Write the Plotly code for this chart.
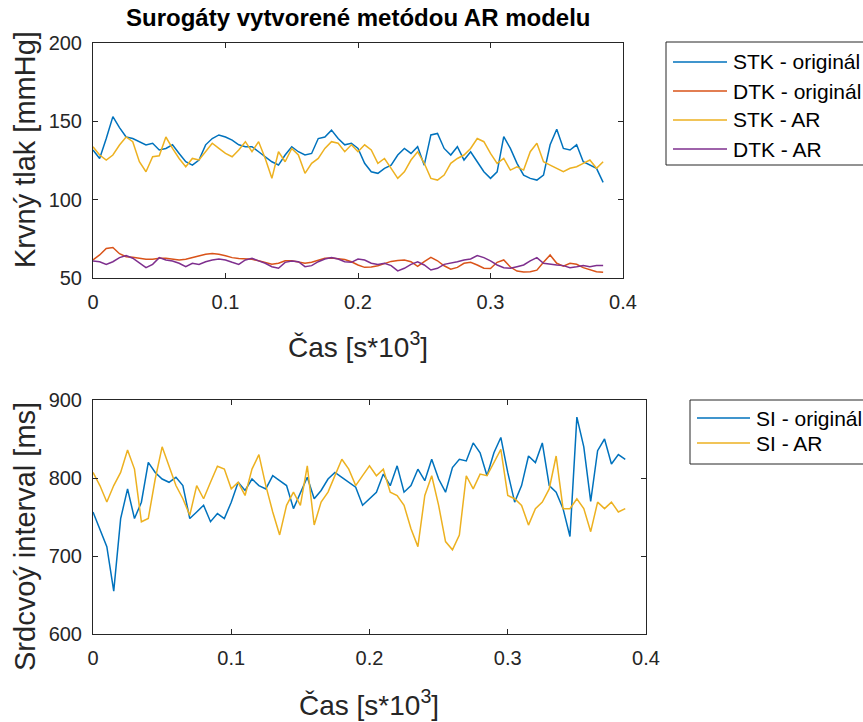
import plotly.graph_objects as go

W, H = 863, 722

# time axis [s*10^3], 78 samples
cas = [round(i * 0.005, 3) for i in range(78)]

stk_orig = [131.7, 126.3, 139, 153, 146, 140, 139, 137, 134.9, 136,
            131.7, 132.7, 135, 129.5, 124.2, 122, 125.3, 135, 139, 141.3,
            140, 138, 135, 133.8, 133.8, 130.6, 127.4, 124.2, 122.1, 128.5,
            133.8, 130.6, 128.5, 129.5, 139, 140, 144.4, 139, 135, 136,
            132.7, 123.2, 117.8, 116.8, 120, 122, 128.5, 132.7, 129.5, 133.8,
            122, 141.3, 142.3, 132.7, 128.5, 133.8, 125.3, 130.6, 124.2, 117.8,
            113.6, 117.8, 140.2, 132.7, 123.2, 115.7, 113.6, 112.5, 115.7, 135,
            145, 132.7, 131.7, 135, 124.2, 122, 120, 111]

dtk_orig = [61.5, 64.7, 68.9, 69.5, 65.5, 63.6, 63.2, 62.6, 62, 62,
            62.6, 62.6, 62, 61.5, 62, 63, 64.2, 65.2, 65.7, 65.2,
            64.2, 63, 62.4, 62.4, 62, 61, 60, 58.8, 59.4, 61,
            61, 60, 59.4, 60, 61.3, 62.6, 62.8, 62.4, 61.8, 60.4,
            58.3, 56.8, 57, 57.8, 59.4, 60.6, 61.2, 61.5, 60.4, 57.5,
            60.5, 63.2, 61, 57.8, 55.6, 56.8, 59.4, 60, 58.3, 56.2,
            56, 60, 61.5, 57, 54.4, 53.8, 54, 55, 60, 64.7,
            59.4, 57.6, 59.4, 58.8, 56.6, 55.4, 54, 53.6]

stk_ar = [133.8, 128.5, 125.3, 128.5, 134.9, 140, 137, 124.2, 117.8, 127.4,
          128, 140, 132.7, 126.3, 121, 126.3, 125.3, 130.6, 136, 132.7,
          129.5, 127.4, 131.7, 137, 130.6, 137, 126.3, 113.6, 130.6, 124.2,
          132.7, 128.5, 116.8, 123.2, 126.3, 132.7, 137, 136, 130.6, 135,
          130.6, 135, 131.7, 123.2, 126.3, 120, 113.6, 117.8, 125.3, 130.6,
          123.2, 113.6, 112.5, 115.7, 123.2, 126.3, 128.5, 132.7, 139, 137,
          129.5, 123.2, 126.3, 118.9, 121, 118.9, 130.6, 136, 124.2, 122,
          120, 117.8, 120, 121, 123.2, 125.3, 120, 124.2]

dtk_ar = [60.9, 60.4, 58.7, 60.4, 63, 64.3, 62.6, 59.4, 56.6, 58.7,
          63, 61.5, 60.9, 59.4, 57.2, 59.4, 58.7, 60.4, 61.5, 62.1,
          61.5, 60, 58.7, 61.5, 62.6, 60.9, 59.4, 57.2, 56.2, 60,
          60.9, 60.4, 57.2, 57.9, 60.4, 62.1, 63, 62.1, 60.4, 60,
          62.1, 61.5, 59.4, 58.7, 59.4, 57.9, 54.5, 56.2, 58.7, 60.4,
          58.3, 55.1, 56.2, 58.7, 59.4, 60.4, 61.5, 62.1, 64.3, 63,
          60.9, 58.3, 56.6, 56.2, 57.2, 58.3, 60.9, 63, 59.4, 58.7,
          58.3, 57.9, 56.6, 57.2, 57.9, 57.2, 57.9, 57.9]

si_orig = [756.5, 735.5, 712, 655, 748, 786, 748, 769, 820, 807,
           798.7, 794.5, 800.9, 790.3, 748, 756.5, 765, 744, 754.4, 748,
           769, 794.5, 784, 798.7, 790.3, 786, 803, 796.6, 790.3, 760.8,
           781.9, 800.9, 773.4, 784, 798.7, 807.2, 800.9, 794.5, 788.2, 765,
           773.4, 781.8, 805, 790.2, 815.6, 781.8, 790.2, 811.3, 796.6, 824,
           798.7, 781.8, 813.4, 824, 821.9, 845, 832.4, 802.9, 832.4, 852,
           807.1, 769.1, 790.2, 828.2, 819.8, 845, 790.2, 781.8, 760.7, 725,
           878, 840, 770, 835, 850, 818, 830, 824]

si_ar = [807.2, 790.3, 769.2, 790.3, 807.2, 836, 811.4, 743.9, 748.1, 798.7,
         840, 815, 790.3, 773.4, 752.3, 790.3, 773.4, 794.5, 815, 811.4,
         786.1, 794.5, 777.6, 811.4, 830, 790.3, 756.5, 727, 765, 781.9,
         765, 815.6, 739.7, 769.2, 781.9, 803, 824.1, 811.4, 790.3, 803,
         815.6, 802.9, 811.3, 781.8, 777.6, 764.9, 735, 712, 777.6, 802.9,
         764.9, 718.5, 708, 726.9, 802.9, 786, 805, 802.9, 819.8, 836.7,
         777.6, 773.4, 764.9, 739.6, 760.7, 769.1, 786, 828.2, 760.7, 760.7,
         773.4, 760.7, 731.2, 769.1, 760.7, 769.1, 756.5, 760.7]

names_top = ["STK - originál", "DTK - originál", "STK - AR", "DTK - AR"]
names_bot = ["SI - originál", "SI - AR"]
colors_top = ["#0072BD", "#D95319", "#EDB120", "#7E2F8E"]
colors_bot = ["#0072BD", "#EDB120"]

x_ticks = [0, 0.1, 0.2, 0.3, 0.4]
x_ticktext = ["0", "0.1", "0.2", "0.3", "0.4"]
y1_ticks = [50, 100, 150, 200]
y2_ticks = [600, 700, 800, 900]

title_text = "Surogáty vytvorené metódou AR modelu"
xlabel = "Čas [s*10<sup>3</sup>]"
ylabel_top = "Krvný tlak [mmHg]"
ylabel_bot = "Srdcvoý interval [ms]"

FONT = "Liberation Sans, Arial, Helvetica, sans-serif"
AX = "#262626"


def px(x):
    return x / W


def py(y):
    return 1 - y / H


fig = go.Figure()
for name, ys, c in zip(names_top, [stk_orig, dtk_orig, stk_ar, dtk_ar], colors_top):
    fig.add_trace(go.Scatter(x=cas, y=ys, mode="lines", name=name,
                             line=dict(color=c, width=1.5),
                             xaxis="x", yaxis="y", showlegend=False))
for name, ys, c in zip(names_bot, [si_orig, si_ar], colors_bot):
    fig.add_trace(go.Scatter(x=cas, y=ys, mode="lines", name=name,
                             line=dict(color=c, width=1.5),
                             xaxis="x2", yaxis="y2", showlegend=False))

common = dict(showline=True, mirror="ticks", linecolor=AX, linewidth=1,
              ticks="inside", ticklen=5, tickcolor=AX, tickwidth=1,
              showgrid=False, zeroline=False,
              tickfont=dict(family=FONT, size=20, color=AX))

fig.update_layout(
    width=W, height=H,
    margin=dict(l=0, r=0, t=0, b=0, autoexpand=False),
    paper_bgcolor="white", plot_bgcolor="white",
    font=dict(family=FONT, color=AX),
    xaxis=dict(domain=[px(93), px(623)], anchor="y", range=[0, 0.4],
               tickvals=x_ticks, ticktext=x_ticktext, ticklabelstandoff=6, **common),
    yaxis=dict(domain=[py(278), py(43)], anchor="x", range=[50, 200],
               tickvals=y1_ticks, ticklabelstandoff=6, **common),
    xaxis2=dict(domain=[px(93), px(646)], anchor="y2", range=[0, 0.4],
                tickvals=x_ticks, ticktext=x_ticktext, ticklabelstandoff=6, **common),
    yaxis2=dict(domain=[py(634), py(400)], anchor="x2", range=[600, 900],
                tickvals=y2_ticks, ticklabelstandoff=6, **common),
)

ann = []
ann.append(dict(text="<b>" + title_text + "</b>", x=px(358), y=py(18), xref="paper", yref="paper",
                showarrow=False, xanchor="center", yanchor="middle",
                font=dict(family=FONT, size=24, color="black")))
for xx, yy in ((358, 345), (369, 703)):
    ann.append(dict(text=xlabel, x=px(xx), y=py(yy), xref="paper", yref="paper",
                    showarrow=False, xanchor="center", yanchor="middle",
                    font=dict(family=FONT, size=28, color=AX)))
ann.append(dict(text=ylabel_top, x=px(25), y=py(150), xref="paper", yref="paper", textangle=-90,
                showarrow=False, xanchor="center", yanchor="middle",
                font=dict(family=FONT, size=29, color=AX)))
ann.append(dict(text=ylabel_bot, x=px(25), y=py(537), xref="paper", yref="paper", textangle=-90,
                showarrow=False, xanchor="center", yanchor="middle",
                font=dict(family=FONT, size=29, color=AX)))

shapes = []
# legend 1
shapes.append(dict(type="rect", xref="paper", yref="paper", x0=px(666), x1=px(W + 10),
                   y0=py(165), y1=py(42), line=dict(color=AX, width=1), fillcolor="white", layer="above"))
for i, (name, c) in enumerate(zip(names_top, colors_top)):
    yc = 62 + i * 29
    shapes.append(dict(type="line", xref="paper", yref="paper", x0=px(673), x1=px(727),
                       y0=py(yc), y1=py(yc), line=dict(color=c, width=1.5), layer="above"))
    ann.append(dict(text=name, x=px(731), y=py(yc), xref="paper", yref="paper", showarrow=False,
                    xanchor="left", yanchor="middle", font=dict(family=FONT, size=21, color="black")))
# legend 2
shapes.append(dict(type="rect", xref="paper", yref="paper", x0=px(690), x1=px(W + 10),
                   y0=py(464), y1=py(400), line=dict(color=AX, width=1), fillcolor="white", layer="above"))
for i, (name, c) in enumerate(zip(names_bot, colors_bot)):
    yc = 418 + i * 25
    shapes.append(dict(type="line", xref="paper", yref="paper", x0=px(697), x1=px(750),
                       y0=py(yc), y1=py(yc), line=dict(color=c, width=1.5), layer="above"))
    ann.append(dict(text=name, x=px(754), y=py(yc), xref="paper", yref="paper", showarrow=False,
                    xanchor="left", yanchor="middle", font=dict(family=FONT, size=21, color="black")))

fig.update_layout(annotations=ann, shapes=shapes)
fig.write_html("out.html", config={"displayModeBar": False},
               post_script="document.body.style.margin='0';document.body.style.overflow='hidden';")
